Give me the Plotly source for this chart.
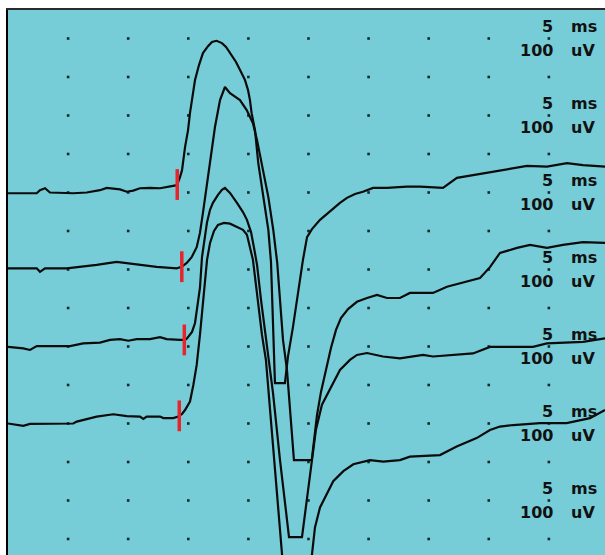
import numpy as np
import plotly.graph_objects as go

# ---- data (time in ms, amplitude in uV relative to each trace baseline) ----
t1 = [0.0, 2.39, 2.66, 3.08, 3.49, 5.43, 6.55, 7.65, 8.21, 9.32, 9.88, 10.42, 10.98, 11.81, 12.65, 13.48, 14.06,
      14.31, 14.48, 14.73, 14.98, 15.14, 15.39, 15.56, 15.89, 16.22, 16.64, 16.97, 17.35, 17.80, 18.14, 18.47,
      18.97, 19.44, 19.72, 19.97, 20.13, 20.27, 20.55, 20.82, 21.24, 21.66, 21.88, 22.05, 22.21, 23.04, 23.29,
      23.71, 24.02, 24.29, 24.54, 24.88, 25.29, 25.96, 26.79, 27.62, 28.2, 28.87, 29.53, 30.37, 31.53, 33.19,
      34.28, 36.19, 37.35, 38.69, 40.35, 42.01, 43.18, 44.84, 46.51, 47.84, 49.67]
v1 = [-2, -2, 6, 11, 0, -2, 0, 6, 12, 8, 2, 5, 11, 12, 11, 15, 19,
      40, 58, 118, 162, 206, 253, 292, 331, 362, 380, 391, 394, 388, 378, 362,
      339, 310, 292, 266, 240, 206, 162, 77, -12, -97, -180, -331, -495, -495, -427,
      -349, -279, -227, -175, -116, -95, -71, -48, -27, -14, -4, 2, 12, 12, 15,
      15, 12, 38, 45, 54, 64, 69, 67, 76, 71, 67]

t2 = [0.0, 2.39, 2.66, 3.08, 4.88, 7.38, 9.04, 10.15, 11.23, 12.37, 14.04, 14.45, 14.87, 15.28, 15.70, 15.97,
      16.22, 16.53, 16.86, 17.22, 17.64, 18.05, 18.47, 19.30, 19.86, 20.38, 20.72, 21.11, 21.66, 22.07, 22.40,
      22.63, 22.88, 23.21, 23.46, 23.79, 25.27, 25.46, 25.71, 26.04, 26.46, 26.87, 27.29, 27.70, 28.29, 29.03,
      29.87, 30.70, 31.53, 32.61, 33.44, 35.36, 36.52, 38.19, 39.27, 40.10, 40.93, 42.35, 43.43, 44.84, 46.17,
      47.84, 49.67]
v2 = [3, 3, -6, 3, 3, 12, 20, 16, 12, 7, 3, 7, 17, 32, 58, 95,
      147, 214, 284, 370, 440, 474, 458, 440, 414, 380, 336, 277, 188, 103, 17,
      -79, -183, -261, -365, -495, -495, -443, -378, -318, -261, -204, -157, -126, -103, -84,
      -74, -66, -74, -74, -61, -61, -45, -32, -22, 6, 43, 56, 64, 56, 64,
      71, 69]

t3 = [0.0, 1.27, 1.83, 2.39, 5.16, 6.26, 7.65, 8.49, 9.32, 10.01, 10.71, 11.81, 12.65, 13.20, 14.31, 14.73,
      14.89, 15.31, 15.56, 15.72, 15.97, 16.14, 16.39, 16.56, 16.81, 17.05, 17.47, 17.80, 18.05, 18.47, 19.05,
      19.55, 19.88, 20.22, 20.47, 20.72, 21.05, 21.38, 21.71, 22.05, 22.63, 23.04, 23.38, 24.46, 24.88, 25.27,
      25.62, 26.12, 26.79, 27.62, 28.45, 29.03, 29.87, 31.20, 32.61, 34.53, 35.36, 36.77, 38.69, 40.10, 43.68,
      44.84, 47.84, 49.67]
v3 = [-1, -5, -9, 1, 1, 8, 10, 17, 19, 15, 19, 19, 24, 19, 17, 17,
      21, 38, 61, 92, 152, 232, 290, 323, 355, 373, 394, 407, 412, 399, 373,
      349, 329, 297, 256, 212, 121, 43, -35, -121, -295, -412, -495, -495, -398, -294,
      -216, -151, -112, -61, -35, -22, -17, -26, -31, -22, -26, -22, -18, -1, -1,
      8, 12, 21]

t4 = [0.0, 1.27, 1.83, 5.43, 5.72, 7.38, 8.76, 9.88, 10.98, 11.26, 11.54, 12.65, 12.92, 13.75, 14.17, 14.48,
      14.73, 15.14, 15.42, 15.70, 15.97, 16.20, 16.39, 16.56, 16.81, 17.14, 17.47, 17.97, 18.47, 19.05, 19.55,
      19.88, 20.13, 20.38, 20.63, 20.88, 21.13, 21.46, 21.80, 22.13, 22.46, 22.80, 23.05, 23.21, 24.79, 25.12,
      25.29, 25.54, 25.96, 26.51, 27.06, 27.90, 28.73, 30.12, 31.22, 32.61, 33.44, 35.94, 37.33, 38.99, 40.10,
      40.93, 42.04, 44.26, 46.48, 48.42, 49.67]
v4 = [0, -6, -1, 0, 5, 18, 24, 19, 18, 12, 18, 18, 14, 14, 18, 25,
      35, 57, 100, 152, 230, 300, 373, 425, 469, 500, 516, 521, 519, 511, 503,
      490, 461, 425, 360, 295, 230, 165, 35, -95, -225, -342, -458, -495, -495, -405,
      -340, -270, -218, -184, -150, -124, -106, -95, -99, -95, -86, -82, -60, -38, -17,
      -8, -4, 1, 1, 14, 35]

times = [t1, t2, t3, t4]
values = [v1, v2, v3, v4]
baselines = [900, 700, 500, 300]          # vertical position of each sweep (uV)
onsets = [14.08, 14.46, 14.67, 14.25]     # onset cursor latency (ms)
cursor_half = 40                          # half height of onset cursor (uV)

grid_t = [5, 10, 15, 20, 25, 30, 35, 40, 45]
grid_v = [0, 100, 200, 300, 400, 500, 600, 700, 800, 900, 1000, 1100, 1200, 1300]

time_label = ("5", "ms")
amp_label = ("100", "uV")
time_label_levels = [1330, 1130, 930, 730, 530, 330, 130]
amp_label_levels = [1268, 1070, 870, 670, 468, 268, 70]

BG = "#77CDD7"
fig = go.Figure()

# grid dots
gx, gy = np.meshgrid(grid_t, grid_v)
fig.add_trace(go.Scatter(x=gx.ravel(), y=gy.ravel(), mode="markers",
                         marker=dict(symbol="square", size=2.6, color="#14282a", line=dict(width=0)),
                         hoverinfo="skip", showlegend=False))

# sweeps
for t, v, b in zip(times, values, baselines):
    fig.add_trace(go.Scatter(x=t, y=np.array(v) + b, mode="lines",
                             line=dict(color="#0b0b0b", width=2.2), showlegend=False))

# onset cursors
for t, v, b, on in zip(times, values, baselines, onsets):
    yc = np.interp(on, t, v) + b
    fig.add_trace(go.Scatter(x=[on, on], y=[yc - cursor_half, yc + cursor_half], mode="lines",
                             line=dict(color="#e8232b", width=3.5), showlegend=False))

ann = []
fnt = dict(family="DejaVu Sans", size=16, color="#111111")
for ly in time_label_levels:
    ann.append(dict(x=45.55, y=ly, text="<b>%s</b>" % time_label[0], showarrow=False, xanchor="right", yanchor="middle", font=fnt))
    ann.append(dict(x=46.7, y=ly, text="<b>%s</b>" % time_label[1], showarrow=False, xanchor="left", yanchor="middle", font=fnt))
for ly in amp_label_levels:
    ann.append(dict(x=45.55, y=ly, text="<b>%s</b>" % amp_label[0], showarrow=False, xanchor="right", yanchor="middle", font=fnt))
    ann.append(dict(x=46.7, y=ly, text="<b>%s</b>" % amp_label[1], showarrow=False, xanchor="left", yanchor="middle", font=fnt))

fig.update_layout(
    width=605, height=555,
    margin=dict(l=8, r=0, t=10, b=0),
    paper_bgcolor="white", plot_bgcolor=BG,
    annotations=ann,
    xaxis=dict(range=[0, 49.67], showgrid=False, zeroline=False, showticklabels=False, ticks="",
               showline=True, side="top", linecolor="#2a2a2a", linewidth=2),
    yaxis=dict(range=[-41.6, 1374], showgrid=False, zeroline=False, showticklabels=False, ticks="",
               showline=True, linecolor="#000000", linewidth=2),
)
fig.write_html("out.html")
